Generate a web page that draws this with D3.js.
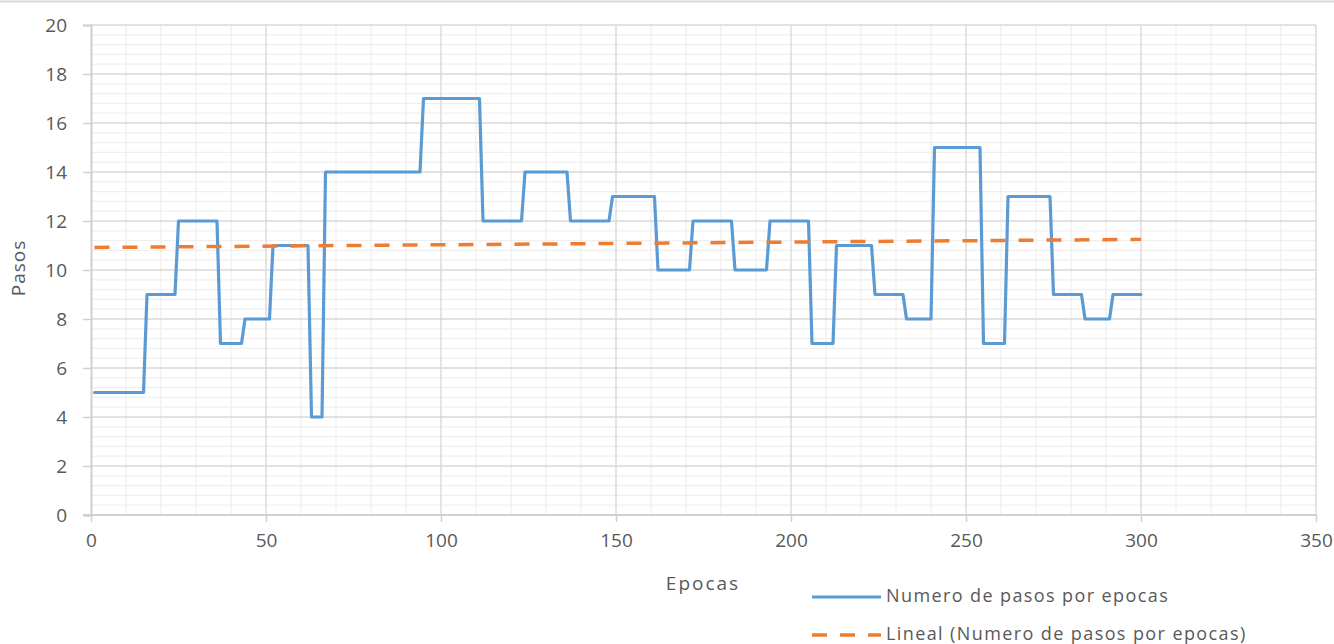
<!DOCTYPE html>
<html>
<head>
<meta charset="utf-8">
<script src="https://cdn.jsdelivr.net/npm/d3@7/dist/d3.min.js"></script>
<style>
  html, body { margin: 0; padding: 0; background: #ffffff; }
  svg { display: block; }
  text { font-family: "Open Sans", "Noto Sans", sans-serif; fill: #595959; }
</style>
</head>
<body>
<svg id="chart" width="1334" height="644"></svg>
<script>
// Steps per epoch: vertices of the stepped series (epoch, steps)
const epochs = [1, 15, 16, 24, 25, 36, 37, 43, 44, 51, 52, 62, 63, 66, 67, 94, 95, 111, 112, 123,
  124, 136, 137, 148, 149, 161, 162, 171, 172, 183, 184, 193, 194, 205, 206, 212, 213, 223, 224, 232,
  233, 240, 241, 254, 255, 261, 262, 274, 275, 283, 284, 291, 292, 300];
const steps = [5, 5, 9, 9, 12, 12, 7, 7, 8, 8, 11, 11, 4, 4, 14, 14, 17, 17, 12, 12,
  14, 14, 12, 12, 13, 13, 10, 10, 12, 12, 10, 10, 12, 12, 7, 7, 11, 11, 9, 9,
  8, 8, 15, 15, 7, 7, 13, 13, 9, 9, 8, 8, 9, 9];

// Linear trend line endpoints
const trendEpochs = [1, 300];
const trendSteps = [10.92, 11.25];

// Axis tick values
const xTicks = [0, 50, 100, 150, 200, 250, 300, 350];
const yTicks = [0, 2, 4, 6, 8, 10, 12, 14, 16, 18, 20];

const seriesName = "Numero de pasos por epocas";
const trendName = "Lineal (Numero de pasos por epocas)";
const xTitle = "Epocas";
const yTitle = "Pasos";

const svg = d3.select("#chart");
const plot = { left: 91, right: 1316, top: 25, bottom: 515 };

const x = d3.scaleLinear().domain([0, 350]).range([plot.left, plot.right]);
const y = d3.scaleLinear().domain([0, 20]).range([plot.bottom, plot.top]);

// thin frame line along the top edge
svg.append("line")
  .attr("x1", 0).attr("x2", 1334).attr("y1", 1.5).attr("y2", 1.5)
  .attr("stroke", "#d9d9d9").attr("stroke-width", 2);

// minor gridlines
const minorX = d3.range(0, 351, 10).filter(v => v % 50 !== 0);
const minorY = d3.range(0, 20.001, 0.4).filter(v => Math.abs(v / 2 - Math.round(v / 2)) > 1e-6);
const grid = svg.append("g");
grid.selectAll(".mx").data(minorX).join("line")
  .attr("x1", d => x(d)).attr("x2", d => x(d))
  .attr("y1", plot.top).attr("y2", plot.bottom)
  .attr("stroke", "#efefef").attr("stroke-width", 1.2);
grid.selectAll(".my").data(minorY).join("line")
  .attr("x1", plot.left).attr("x2", plot.right)
  .attr("y1", d => y(d)).attr("y2", d => y(d))
  .attr("stroke", "#efefef").attr("stroke-width", 1.2);

// major gridlines
grid.selectAll(".gx").data(xTicks.slice(1)).join("line")
  .attr("x1", d => x(d)).attr("x2", d => x(d))
  .attr("y1", plot.top).attr("y2", plot.bottom)
  .attr("stroke", "#d9d9d9").attr("stroke-width", 1.4);
grid.selectAll(".gy").data(yTicks.slice(1)).join("line")
  .attr("x1", plot.left).attr("x2", plot.right)
  .attr("y1", d => y(d)).attr("y2", d => y(d))
  .attr("stroke", "#d9d9d9").attr("stroke-width", 1.4);

// axes
const xAxis = svg.append("g")
  .attr("transform", `translate(0,${plot.bottom})`)
  .call(d3.axisBottom(x).tickValues(xTicks).tickSize(7).tickPadding(12).tickFormat(d3.format("d")));
const yAxis = svg.append("g")
  .attr("transform", `translate(${plot.left},0)`)
  .call(d3.axisLeft(y).tickValues(yTicks).tickSize(8).tickPadding(16).tickFormat(d3.format("d")));

[xAxis, yAxis].forEach(g => {
  g.select(".domain").attr("stroke", "#d0d0d0").attr("stroke-width", 2);
  g.selectAll(".tick line").attr("stroke", "#d0d0d0").attr("stroke-width", 1.5);
  g.selectAll(".tick text")
    .attr("fill", "#595959")
    .style("font-family", "'Open Sans', sans-serif")
    .style("font-size", "19px");
});
xAxis.select(".domain").attr("d", `M${plot.left - 8},0H${plot.right}`);

// stepped series
const seriesPts = epochs.map((e, i) => [e, steps[i]]);
svg.append("path")
  .datum(seriesPts)
  .attr("fill", "none")
  .attr("stroke", "#5B9BD5")
  .attr("stroke-width", 3.2)
  .attr("stroke-linejoin", "round")
  .attr("stroke-linecap", "round")
  .attr("d", d3.line().x(d => x(d[0])).y(d => y(d[1])));

// linear trend
const trendPts = trendEpochs.map((e, i) => [e, trendSteps[i]]);
svg.append("path")
  .datum(trendPts)
  .attr("fill", "none")
  .attr("stroke", "#ED7D31")
  .attr("stroke-width", 3.5)
  .attr("stroke-dasharray", "15,13")
  .attr("d", d3.line().x(d => x(d[0])).y(d => y(d[1])));

// axis titles
svg.append("text")
  .attr("x", 703).attr("y", 585)
  .attr("text-anchor", "middle").attr("dominant-baseline", "middle")
  .style("font-size", "19px").style("letter-spacing", "2px")
  .text(xTitle);
svg.append("text")
  .attr("transform", "translate(20,268) rotate(-90)")
  .attr("text-anchor", "middle").attr("dominant-baseline", "middle")
  .style("font-size", "19px").style("letter-spacing", "1px")
  .text(yTitle);

// legend
const legend = svg.append("g");
const items = [
  { name: seriesName, color: "#5B9BD5", dash: null, y: 597, width: 3.2 },
  { name: trendName, color: "#ED7D31", dash: "15,13", y: 635, width: 3.5 }
];
items.forEach(it => {
  legend.append("line")
    .attr("x1", 812).attr("x2", 881).attr("y1", it.y).attr("y2", it.y)
    .attr("stroke", it.color).attr("stroke-width", it.width)
    .attr("stroke-dasharray", it.dash);
  legend.append("text")
    .attr("x", 886).attr("y", it.y)
    .attr("dominant-baseline", "middle")
    .style("font-size", "18px").style("letter-spacing", "1.4px")
    .text(it.name);
});
</script>
</body>
</html>
